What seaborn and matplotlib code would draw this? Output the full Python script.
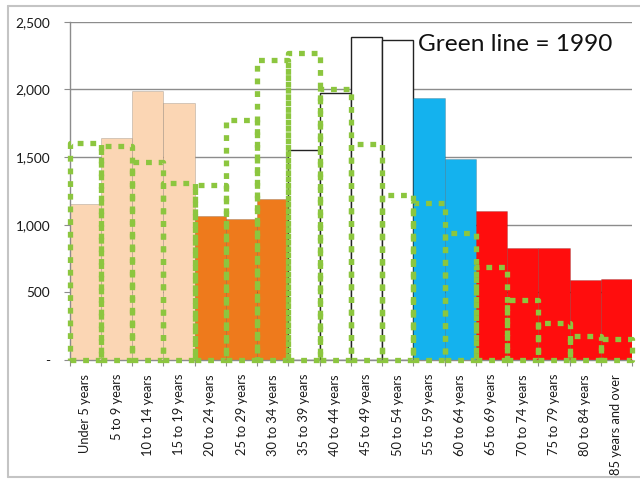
import matplotlib
matplotlib.use("Agg")
import matplotlib.pyplot as plt
from matplotlib.lines import Line2D
from matplotlib.ticker import FuncFormatter, FixedLocator
import numpy as np
import pandas as pd
import seaborn as sns

# Age groups and population (thousands) – current bars and 1990 outline
age_groups = [
    "Under 5 years", "5 to 9 years", "10 to 14 years", "15 to 19 years",
    "20 to 24 years", "25 to 29 years", "30 to 34 years", "35 to 39 years",
    "40 to 44 years", "45 to 49 years", "50 to 54 years", "55 to 59 years",
    "60 to 64 years", "65 to 69 years", "70 to 74 years", "75 to 79 years",
    "80 to 84 years", "85 years and over",
]
population_now = [1150, 1640, 1990, 1900, 1065, 1045, 1190, 1550, 1975,
                  2390, 2365, 1935, 1488, 1104, 830, 830, 592, 595]
population_1990 = [1600, 1580, 1460, 1310, 1290, 1770, 2220, 2270, 2000,
                   1595, 1220, 1160, 940, 688, 440, 270, 175, 155]
life_stage = ["child"] * 4 + ["young"] * 3 + ["boomer"] * 4 + ["older"] * 2 + ["senior"] * 5

stage_colors = {
    "child": "#FBD6B4",
    "young": "#EE7A1C",
    "boomer": "#FFFFFF",
    "older": "#14B2EE",
    "senior": "#FF0D0D",
}
green_1990 = "#8CC63F"

df = pd.DataFrame({
    "age": age_groups,
    "now": population_now,
    "y1990": population_1990,
    "stage": life_stage,
})
bar_palette = [stage_colors[s] for s in life_stage]

sns.set_theme(style="white")
plt.rcParams["font.family"] = ["Lato", "DejaVu Sans"]

fig = plt.figure(figsize=(6.4, 4.79), dpi=100)
ax = fig.add_axes([0.109, 0.2484, 0.8785, 0.7063])

# current population bars
sns.barplot(data=df, x="age", y="now", hue="age", palette=bar_palette,
            width=1.0, legend=False, saturation=1.0, ax=ax,
            edgecolor="none", linewidth=0, zorder=2)

# white bars (ages 35-54) get a thin black outline, coloured bars a soft darker edge
for patch, stage in zip(ax.patches, life_stage):
    if stage == "boomer":
        patch.set_edgecolor("#222222")
        patch.set_linewidth(1.0)
    else:
        patch.set_edgecolor((0, 0, 0, 0.18))
        patch.set_linewidth(0.6)

n_now = len(ax.patches)

# 1990 population as a dotted green outline
sns.barplot(data=df, x="age", y="y1990", width=1.0, fill=False,
            edgecolor=green_1990, linewidth=3.8, linestyle=(0, (1.1, 1.3)),
            ax=ax, zorder=4, errorbar=None)
for patch in ax.patches[n_now:]:
    patch.set_joinstyle("round")
    patch.set_capstyle("butt")
    patch.set_clip_on(False)

ax.set_ylim(0, 2500)
ax.set_xlim(-0.5, len(age_groups) - 0.5)
ax.yaxis.set_major_locator(FixedLocator([0, 500, 1000, 1500, 2000, 2500]))
ax.yaxis.set_major_formatter(FuncFormatter(lambda v, _: "-" if v == 0 else f"{int(v):,}"))
ax.grid(axis="y", color="#8C8C8C", linewidth=1.0, zorder=0)
ax.set_axisbelow(True)

ax.set_xlabel("")
ax.set_ylabel("")
ax.set_xticks(range(len(age_groups)))
ax.set_xticklabels(age_groups, rotation=90, fontsize=9.3, color="#1A1A1A")
ax.set_xticks(np.arange(-0.5, len(age_groups), 1.0), minor=True)
ax.tick_params(axis="x", which="major", length=0, pad=10)
ax.tick_params(axis="x", which="minor", length=4, width=0.8, color="#8C8C8C", direction="out", bottom=True)
ax.tick_params(axis="y", which="major", length=4, width=0.8, color="#8C8C8C", direction="out",
               left=True, labelsize=9.8, labelcolor="#1A1A1A", pad=10)

for side in ("top", "right"):
    ax.spines[side].set_visible(False)
for side in ("left", "bottom"):
    ax.spines[side].set_color("#8C8C8C")
    ax.spines[side].set_linewidth(1.0)

ax.text(10.65, 2335, "Green line = 1990", fontsize=17.6, color="#111111",
        va="center", ha="left", zorder=6)

# light grey frame around the chart area
frame_kw = dict(color="#C4C4C4", linewidth=1.5, transform=fig.transFigure)
fig.add_artist(Line2D([0.0125, 1.0], [0.9875, 0.9875], **frame_kw))
fig.add_artist(Line2D([0.0125, 0.0125], [0.004, 0.9875], **frame_kw))
fig.add_artist(Line2D([0.0125, 1.0], [0.004, 0.004], **frame_kw))

fig.savefig("out.png", dpi=100)
